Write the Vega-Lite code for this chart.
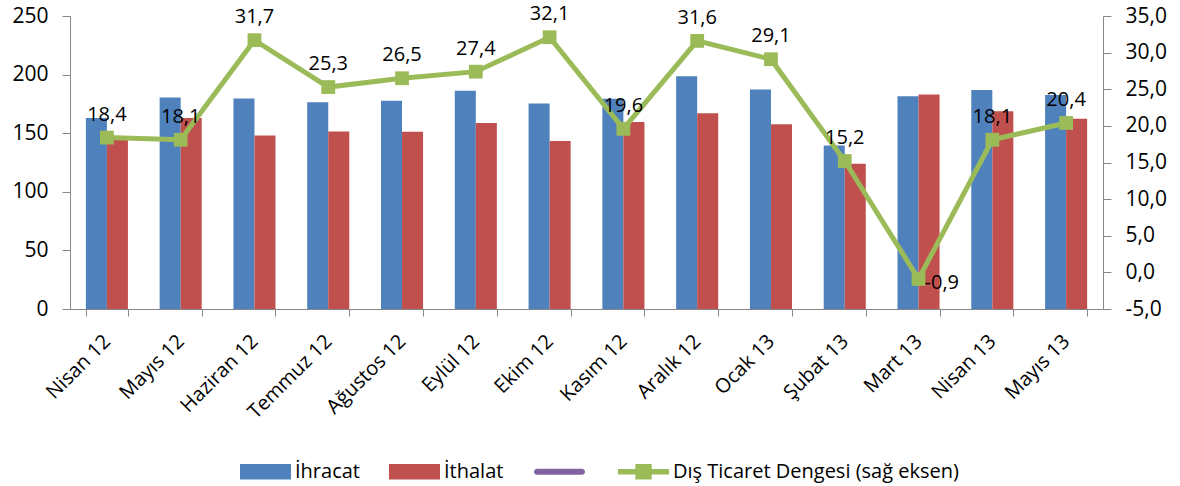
{
  "$schema": "https://vega.github.io/schema/vega-lite/v6.json",
  "width": 1033,
  "height": 293,
  "autosize": {"type": "none"},
  "padding": {"left": 70, "top": 16, "right": 77, "bottom": 177},
  "background": "white",
  "config": {
    "locale": {"number": {"decimal": ",", "thousands": ".", "grouping": [3], "currency": ["", " TL"], "minus": "-"}},
    "view": {"stroke": null},
    "font": "Open Sans"
  },
  "datasets": {
    "trade": [
      {"month": "Nisan 12", "series": "İhracat", "value": 162.9},
      {"month": "Mayıs 12", "series": "İhracat", "value": 180.4},
      {"month": "Haziran 12", "series": "İhracat", "value": 179.6},
      {"month": "Temmuz 12", "series": "İhracat", "value": 176.5},
      {"month": "Ağustos 12", "series": "İhracat", "value": 177.6},
      {"month": "Eylül 12", "series": "İhracat", "value": 186.3},
      {"month": "Ekim 12", "series": "İhracat", "value": 175.3},
      {"month": "Kasım 12", "series": "İhracat", "value": 179.3},
      {"month": "Aralık 12", "series": "İhracat", "value": 198.5},
      {"month": "Ocak 13", "series": "İhracat", "value": 187.2},
      {"month": "Şubat 13", "series": "İhracat", "value": 139.6},
      {"month": "Mart 13", "series": "İhracat", "value": 181.5},
      {"month": "Nisan 13", "series": "İhracat", "value": 186.9},
      {"month": "Mayıs 13", "series": "İhracat", "value": 182.7},
      {"month": "Nisan 12", "series": "İthalat", "value": 145.0},
      {"month": "Mayıs 12", "series": "İthalat", "value": 162.9},
      {"month": "Haziran 12", "series": "İthalat", "value": 148.1},
      {"month": "Temmuz 12", "series": "İthalat", "value": 151.5},
      {"month": "Ağustos 12", "series": "İthalat", "value": 151.2},
      {"month": "Eylül 12", "series": "İthalat", "value": 158.6},
      {"month": "Ekim 12", "series": "İthalat", "value": 143.3},
      {"month": "Kasım 12", "series": "İthalat", "value": 159.5},
      {"month": "Aralık 12", "series": "İthalat", "value": 167.1},
      {"month": "Ocak 13", "series": "İthalat", "value": 157.7},
      {"month": "Şubat 13", "series": "İthalat", "value": 124.0},
      {"month": "Mart 13", "series": "İthalat", "value": 183.0},
      {"month": "Nisan 13", "series": "İthalat", "value": 168.8},
      {"month": "Mayıs 13", "series": "İthalat", "value": 162.3},
      {"month": "Nisan 12", "series": "Dış Ticaret Dengesi (sağ eksen)", "value": 18.4},
      {"month": "Mayıs 12", "series": "Dış Ticaret Dengesi (sağ eksen)", "value": 18.1},
      {"month": "Haziran 12", "series": "Dış Ticaret Dengesi (sağ eksen)", "value": 31.7},
      {"month": "Temmuz 12", "series": "Dış Ticaret Dengesi (sağ eksen)", "value": 25.3},
      {"month": "Ağustos 12", "series": "Dış Ticaret Dengesi (sağ eksen)", "value": 26.5},
      {"month": "Eylül 12", "series": "Dış Ticaret Dengesi (sağ eksen)", "value": 27.4},
      {"month": "Ekim 12", "series": "Dış Ticaret Dengesi (sağ eksen)", "value": 32.1},
      {"month": "Kasım 12", "series": "Dış Ticaret Dengesi (sağ eksen)", "value": 19.6},
      {"month": "Aralık 12", "series": "Dış Ticaret Dengesi (sağ eksen)", "value": 31.6},
      {"month": "Ocak 13", "series": "Dış Ticaret Dengesi (sağ eksen)", "value": 29.1},
      {"month": "Şubat 13", "series": "Dış Ticaret Dengesi (sağ eksen)", "value": 15.2},
      {"month": "Mart 13", "series": "Dış Ticaret Dengesi (sağ eksen)", "value": -0.9},
      {"month": "Nisan 13", "series": "Dış Ticaret Dengesi (sağ eksen)", "value": 18.1},
      {"month": "Mayıs 13", "series": "Dış Ticaret Dengesi (sağ eksen)", "value": 20.4}
    ]
  },
  "data": {"name": "trade"},
  "encoding": {
    "x": {
      "field": "month",
      "type": "nominal",
      "sort": ["Nisan 12", "Mayıs 12", "Haziran 12", "Temmuz 12", "Ağustos 12", "Eylül 12", "Ekim 12", "Kasım 12", "Aralık 12", "Ocak 13", "Şubat 13", "Mart 13", "Nisan 13", "Mayıs 13"],
      "scale": {"paddingInner": 0.43, "paddingOuter": 0.215},
      "axis": {
        "title": null,
        "labelAngle": -45,
        "labelAlign": "right",
        "labelBaseline": "middle",
        "labelFont": "Open Sans",
        "labelFontSize": 20,
        "labelColor": "#000000",
        "labelPadding": 22,
        "domainColor": "#868686",
        "tickColor": "#868686",
        "tickSize": 7,
        "tickBand": "extent"
      }
    }
  },
  "layer": [
    {
      "transform": [{"filter": "datum.series === 'İhracat' || datum.series === 'İthalat'"}],
      "mark": {"type": "bar"},
      "encoding": {
        "xOffset": {"field": "series", "type": "nominal", "sort": ["İhracat", "İthalat"], "scale": {"paddingInner": 0, "paddingOuter": 0}},
        "y": {
          "field": "value",
          "type": "quantitative",
          "scale": {"domain": [0, 250], "nice": false, "zero": true},
          "axis": {
            "title": null,
            "values": [0, 50, 100, 150, 200, 250],
            "grid": false,
            "labelFont": "Open Sans",
            "labelFontSize": 21,
            "labelColor": "#000000",
            "labelPadding": 14,
            "domainColor": "#868686",
            "tickColor": "#868686",
            "tickSize": 8
          }
        },
        "color": {
          "field": "series",
          "type": "nominal",
          "scale": {
            "domain": ["İhracat", "İthalat", "\u200b", "Dış Ticaret Dengesi (sağ eksen)"],
            "range": ["#4F81BD", "#C0504D", "#8064A2", "#9BBB59"]
          },
          "legend": {
            "title": null,
            "orient": "none",
            "direction": "horizontal",
            "legendX": 170,
            "legendY": 430,
            "symbolSize": 2601,
            "labelFont": "Open Sans",
            "labelFontSize": 20,
            "labelColor": "#000000",
            "labelOffset": 4,
            "columnPadding": 29,
            "labelLimit": 400,
            "encode": {
              "symbols": {
                "update": {
                  "shape": {"signal": "datum.value === 'İhracat' || datum.value === 'İthalat' ? 'M-1,-0.3H1V0.3H-1Z' : datum.value === 'Dış Ticaret Dengesi (sağ eksen)' ? 'M-1,-0.11H1V0.11H-1ZM-0.32,-0.3H0.32V0.3H-0.32Z' : 'M-0.88,-0.12H0.88A0.12,0.12 0 0 1 0.88,0.12H-0.88A0.12,0.12 0 0 1 -0.88,-0.12Z'"},
                  "fill": {"scale": "color", "field": "value"},
                  "strokeWidth": {"value": 0},
                  "opacity": {"value": 1},
                  "fillOpacity": {"value": 1}
                }
              }
            }
          }
        }
      }
    },
    {
      "transform": [{"filter": "datum.series === 'Dış Ticaret Dengesi (sağ eksen)'"}],
      "encoding": {
        "y": {
          "field": "value",
          "type": "quantitative",
          "scale": {"domain": [-5, 35], "nice": false, "zero": false},
          "axis": {
            "title": null,
            "orient": "right",
            "format": ".1f",
            "values": [-5, 0, 5, 10, 15, 20, 25, 30, 35],
            "grid": false,
            "labelFont": "Open Sans",
            "labelFontSize": 21,
            "labelColor": "#000000",
            "labelPadding": 14,
            "domainColor": "#868686",
            "tickColor": "#868686",
            "tickSize": 8
          }
        }
      },
      "layer": [
        {"mark": {"type": "line", "color": "#9BBB59", "strokeWidth": 5}},
        {"mark": {"type": "point", "shape": "square", "filled": true, "size": 190, "color": "#9BBB59", "opacity": 1}},
        {
          "transform": [{"filter": "datum.value >= 0"}],
          "mark": {"type": "text", "font": "Open Sans", "fontSize": 20, "color": "#000000", "dy": -23},
          "encoding": {"text": {"field": "value", "type": "quantitative", "format": ".1f"}}
        },
        {
          "transform": [{"filter": "datum.value < 0"}],
          "mark": {"type": "text", "font": "Open Sans", "fontSize": 20, "color": "#000000", "align": "left", "dx": 6, "dy": 4},
          "encoding": {"text": {"field": "value", "type": "quantitative", "format": ".1f"}}
        }
      ]
    }
  ],
  "resolve": {"scale": {"y": "independent"}}
}
